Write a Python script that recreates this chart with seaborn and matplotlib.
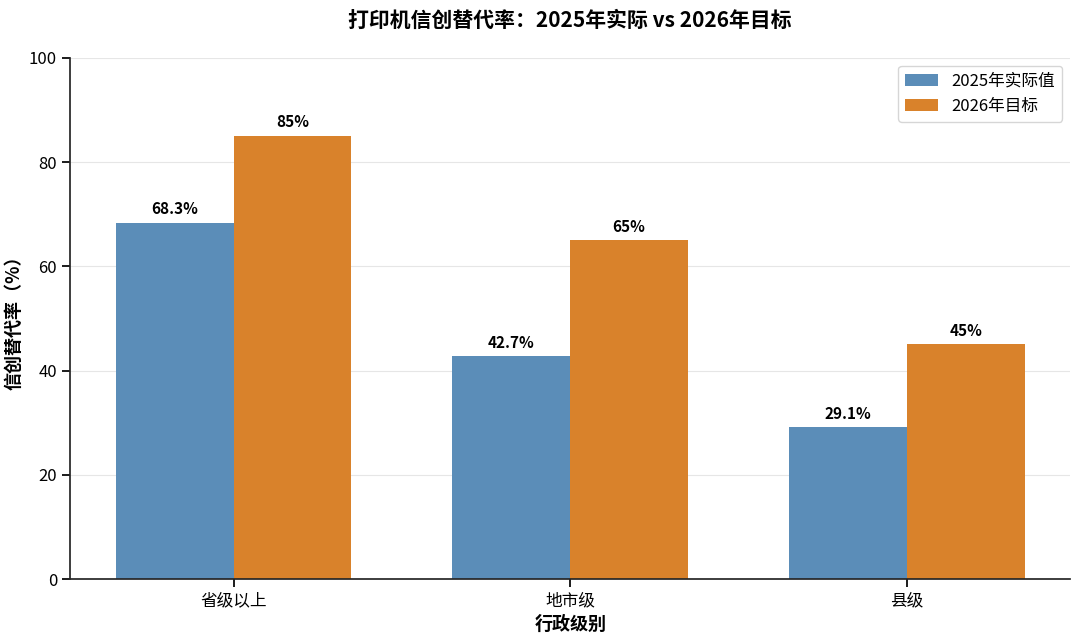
import pandas as pd
import matplotlib.pyplot as plt
import seaborn as sns

levels = ['省级以上', '地市级', '县级']
actual_2025 = [68.3, 42.7, 29.1]
target_2026 = [85, 65, 45]
series_names = ['2025年实际值', '2026年目标']
actual_labels = ['68.3%', '42.7%', '29.1%']
target_labels = ['85%', '65%', '45%']

df = pd.DataFrame({
    'level': levels * 2,
    'rate': actual_2025 + target_2026,
    'series': [series_names[0]] * 3 + [series_names[1]] * 3,
})

sns.set_theme(style='ticks')
plt.rcParams['font.family'] = ['Noto Sans CJK SC', 'DejaVu Sans']
plt.rcParams['axes.unicode_minus'] = False
plt.rcParams['text.color'] = 'black'
plt.rcParams['axes.labelcolor'] = 'black'
plt.rcParams['xtick.color'] = 'black'
plt.rcParams['ytick.color'] = 'black'

fig, ax = plt.subplots(figsize=(10.8, 6.42), dpi=100)
palette = {series_names[0]: '#5B8DB8', series_names[1]: '#D9822B'}
sns.barplot(data=df, x='level', y='rate', hue='series', palette=palette,
            width=0.7, saturation=1, linewidth=0, ax=ax)

for container, labels in zip(ax.containers, [actual_labels, target_labels]):
    ax.bar_label(container, labels=labels, padding=4, fontsize=11, fontweight='bold')

# matplotlib default margins instead of seaborn's -0.5..n-0.5
ax.set_xlim(-0.485, 2.485)
ax.set_ylim(0, 100)
ax.set_title('打印机信创替代率：2025年实际 vs 2026年目标', fontsize=15, fontweight='bold', pad=22)
ax.set_xlabel('行政级别', fontsize=13, fontweight='bold')
ax.set_ylabel('信创替代率（%）', fontsize=13, fontweight='bold')
ax.tick_params(axis='both', labelsize=12)
ax.yaxis.grid(True, color='#e6e6e6', linewidth=0.8)
ax.set_axisbelow(True)
sns.despine(ax=ax)
ax.legend(title=None, loc='upper right', fontsize=12, frameon=True)

fig.subplots_adjust(left=0.065, right=0.991, top=0.91, bottom=0.098)
fig.savefig('out.png', dpi=100)
